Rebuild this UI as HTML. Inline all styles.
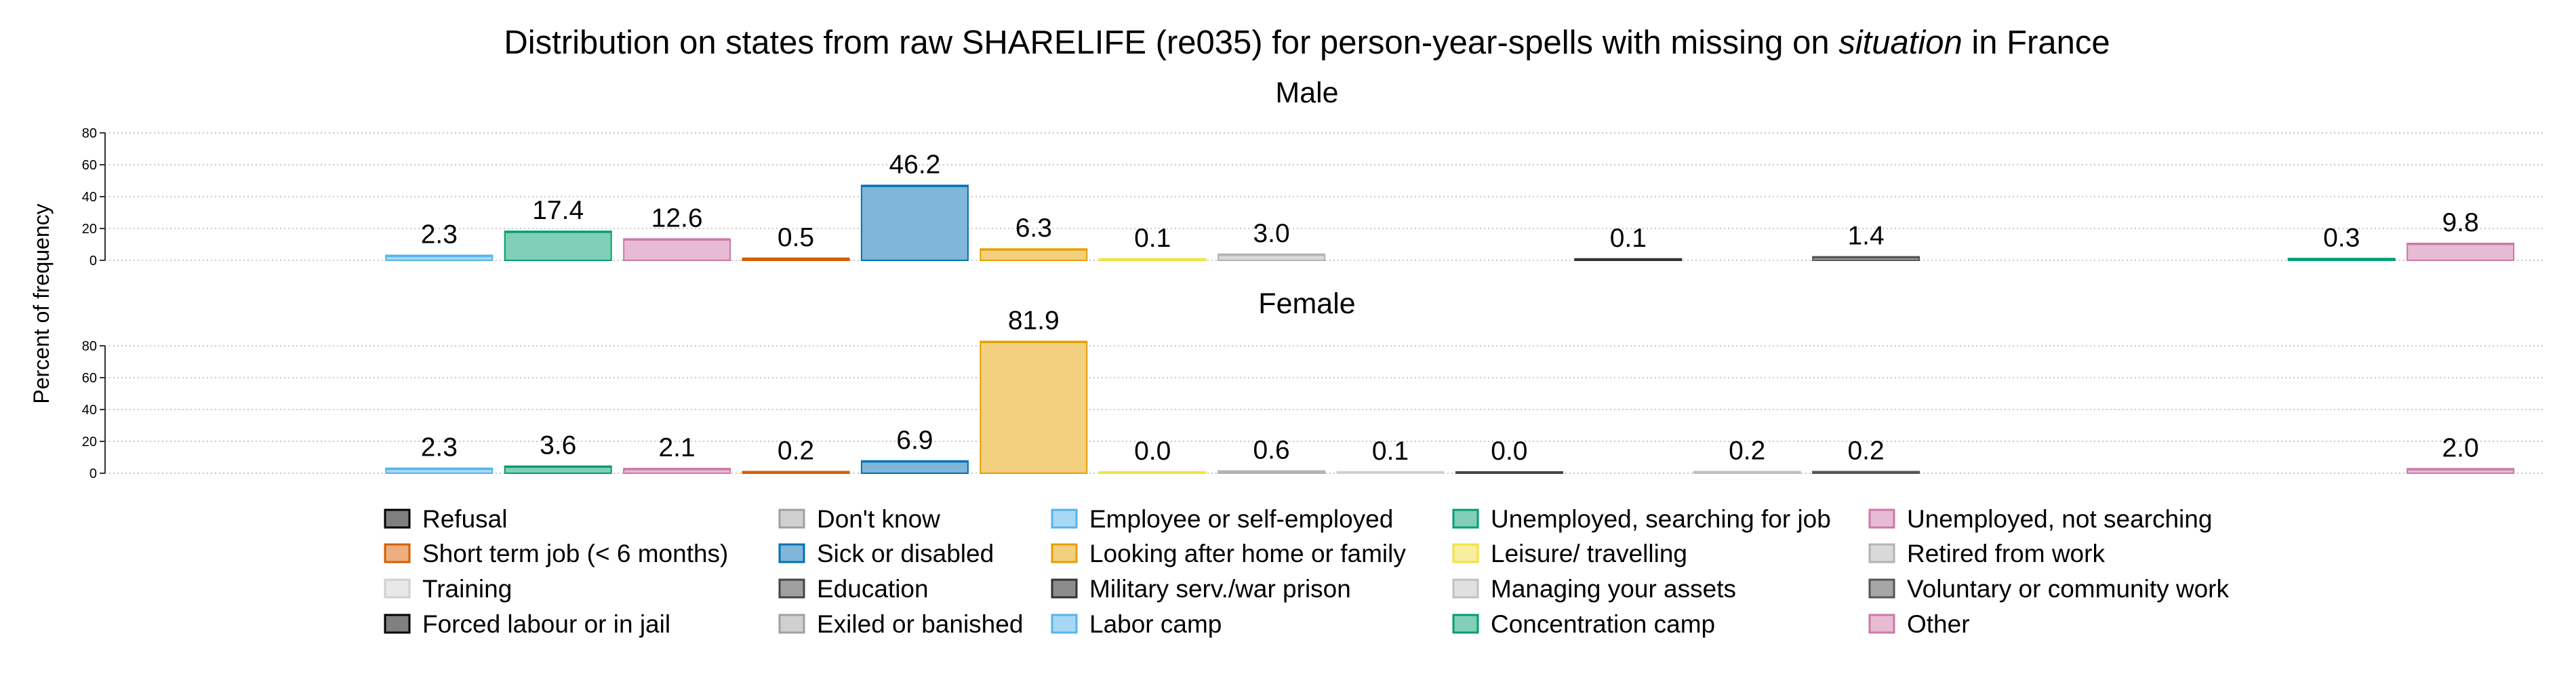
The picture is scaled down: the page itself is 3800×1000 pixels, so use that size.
<!DOCTYPE html>
<html><head><meta charset="utf-8"><style>
html,body{margin:0;padding:0;background:#fff;}
svg{display:block;font-family:"Liberation Sans",Arial,sans-serif;}
</style></head><body>
<svg id="chart" width="3800" height="1000" viewBox="0 0 3800 1000">
<text x="1928" y="79" font-size="49" text-anchor="middle">Distribution on states from raw SHARELIFE (re035) for person-year-spells with missing on <tspan font-style="italic">situation</tspan> in France</text>
<text x="1928" y="151" font-size="43" text-anchor="middle">Male</text>
<text x="1928" y="462" font-size="43" text-anchor="middle">Female</text>
<text transform="translate(72,448) rotate(-90)" font-size="32" text-anchor="middle">Percent of frequency</text>
<g id="plots"></g>
<g id="legend"></g>
</svg>
<script>
const categories = ["Refusal","Don't know","Employee or self-employed","Unemployed, searching for job","Unemployed, not searching","Short term job (< 6 months)","Sick or disabled","Looking after home or family","Leisure/ travelling","Retired from work","Training","Education","Military serv./war prison","Managing your assets","Voluntary or community work","Forced labour or in jail","Exiled or banished","Labor camp","Concentration camp","Other"];
const maleValues = [null,null,2.3,17.4,12.6,0.5,46.2,6.3,0.1,3.0,null,null,0.1,null,1.4,null,null,null,0.3,9.8];
const femaleValues = [null,null,2.3,3.6,2.1,0.2,6.9,81.9,0.0,0.6,0.1,0.0,null,0.2,0.2,null,null,null,null,2.0];
const yTicks = [0,20,40,60,80];
const fills = ["#808080","#d0d0d0","#a6d8f5","#80cfb6","#e7bbd3","#eeaf80","#80b6da","#f3d07f","#f8ee9f","#d9d9d9","#e8e8e8","#a0a0a0","#8c8c8c","#e0e0e0","#a6a6a6","#808080","#d0d0d0","#a6d8f5","#80cfb6","#e7bbd3"];
const strokes = ["#000000","#a0a0a0","#56b4e9","#009e73","#cc79a7","#d55e00","#0072b2","#e69f00","#f0e442","#b3b3b3","#d0d0d0","#444444","#333333","#c0c0c0","#555555","#000000","#a0a0a0","#56b4e9","#009e73","#cc79a7"];

const NS="http://www.w3.org/2000/svg";
const axisX=155, gridRight=3752, x0=209.3, pitch=175.4, barW=157;
function xCenter(i){return x0+pitch*(i+0.5);}
function mk(tag,attrs,parent){const e=document.createElementNS(NS,tag);for(const k in attrs)e.setAttribute(k,attrs[k]);parent.appendChild(e);return e;}
const plots=document.getElementById('plots');
function panel(values,zeroY,name){
  const k=(188)/80;
  const y=v=>zeroY-v*k;
  const g=mk('g',{},plots);
  
  
  yTicks.forEach(t=>{
    const gl=mk('line',{x1:axisX,x2:gridRight,y1:y(t),y2:y(t),stroke:'#c8c8c8','stroke-width':2,'stroke-dasharray':'2 4'},g);
    
    
    const tm=mk('line',{x1:axisX-8,x2:axisX,y1:y(t),y2:y(t),stroke:'#333','stroke-width':2},g);
    
    
    const tl=mk('text',{x:axisX-12,y:y(t)+7,'font-size':20,'text-anchor':'end'},g);
    tl.textContent=t;
    
    
  });
  const ax=mk('line',{x1:axisX,x2:axisX,y1:y(80),y2:zeroY,stroke:'#333','stroke-width':2},g);
  
  
  values.forEach((v,i)=>{
    if(v===null)return;
    const cx=xCenter(i);
    const h=Math.max(v*k,0);
    const r=mk('rect',{x:cx-barW/2,y:y(v)-2,width:barW,height:h+2,fill:fills[i],stroke:strokes[i],'stroke-width':2},g);
    
    
    const tl=mk('line',{x1:cx-barW/2,x2:cx+barW/2,y1:y(v)-1,y2:y(v)-1,stroke:strokes[i],'stroke-width':3},g);
    
    
    const lb=mk('text',{x:cx,y:y(v)-20,'font-size':39,'text-anchor':'middle'},g);
    lb.textContent=v.toFixed(1);
    
    
  });
}
panel(maleValues,384,'male');
panel(femaleValues,698,'female');

const legend=document.getElementById('legend');
const colX=[568,1150,1552,2144,2758], rowY=[765,816,868,920];
categories.forEach((c,i)=>{
  const col=i%5,row=Math.floor(i/5);
  const g=mk('g',{},legend);
  
  
  mk('rect',{x:colX[col],y:rowY[row]-13,width:36,height:26,fill:fills[i],stroke:strokes[i],'stroke-width':3},g);
  const t=mk('text',{x:colX[col]+55,y:rowY[row]+13,'font-size':37},g);
  t.textContent=c;
});
</script>
</body></html>
